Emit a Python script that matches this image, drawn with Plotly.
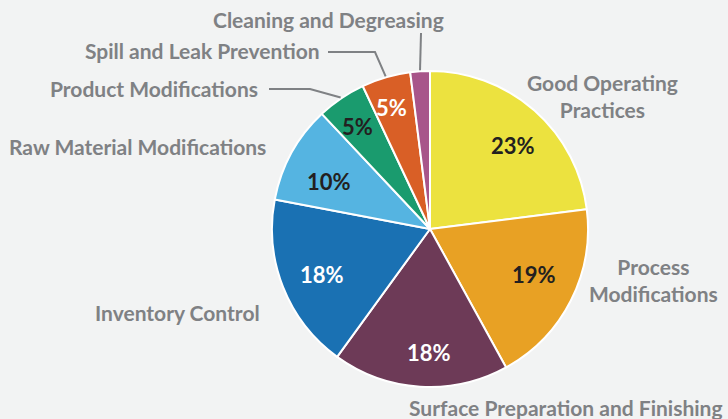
import math
import plotly.graph_objects as go

categories = ["Good Operating Practices", "Process Modifications",
              "Surface Preparation and Finishing", "Inventory Control",
              "Raw Material Modifications", "Product Modifications",
              "Spill and Leak Prevention", "Cleaning and Degreasing"]
values = [23, 19, 18, 18, 10, 5, 5, 2]
pct_labels = ["23%", "19%", "18%", "18%", "10%", "5%", "5%", ""]
colors = ["#ECE23F", "#E8A124", "#6D3A57", "#1A71B3", "#55B4E1",
          "#1A9B6E", "#D95F26", "#A8558A"]
text_colors = ["#231F20", "#231F20", "#FFFFFF", "#FFFFFF", "#231F20",
               "#231F20", "#FFFFFF", "#FFFFFF"]
outer_labels = ["Good Operating<br>Practices", "Process<br>Modifications",
                "Surface Preparation and Finishing", "Inventory Control",
                "Raw Material Modifications", "Product Modifications",
                "Spill and Leak Prevention", "Cleaning and Degreasing"]

W, H = 728, 419
CX, CY, R = 430, 229, 158
FONT = "Lato"
GRAY = "#7F8184"

fig = go.Figure()
fig.add_trace(go.Pie(
    labels=categories, values=values, sort=False, direction="clockwise",
    rotation=0, textinfo="none",
    marker=dict(colors=colors, line=dict(color="white", width=2)),
    domain=dict(x=[(CX - R) / W, (CX + R) / W], y=[1 - (CY + R) / H, 1 - (CY - R) / H]),
    showlegend=False, hoverinfo="label+percent",
))

def px(x, y):
    return x / W, 1 - y / H

# slice mid-angles from the data
total = sum(values)
cum = 0
mids = []
for v in values:
    mids.append((cum + v / 2) / total * 2 * math.pi)
    cum += v

# percentage labels inside slices (radial fraction, angular nudge in degrees)
rad_frac = [0.748, 0.722, 0.78, 0.741, 0.704, 0.794, 0.808, 0.8]
ang_nudge = [3.4, -3.3, -3.2, -1.4, -3.5, -1.2, -1.3, 0]
for i, (t, c) in enumerate(zip(pct_labels, text_colors)):
    if not t:
        continue
    a = mids[i] + math.radians(ang_nudge[i])
    x = CX + rad_frac[i] * R * math.sin(a)
    y = CY - rad_frac[i] * R * math.cos(a)
    xp, yp = px(x, y)
    fig.add_annotation(x=xp, y=yp, xref="paper", yref="paper", text=t,
                       showarrow=False, xanchor="center", yanchor="middle",
                       font=dict(family=FONT, size=22, color=c, weight="bold"))

# outside label positions (pixel centre, anchor)
label_pos = [
    (602, 96, "center"), (653, 280, "center"), (566, 407, "center"),
    (262, 312, "right"), (268, 146, "right"), (260, 88, "right"),
    (322, 51, "right"), (446, 20, "right"),
]
for lab, (x, y, anc) in zip(outer_labels, label_pos):
    xp, yp = px(x, y)
    fig.add_annotation(x=xp, y=yp, xref="paper", yref="paper", text=lab,
                       showarrow=False, xanchor=anc, yanchor="middle",
                       align="center",
                       font=dict(family=FONT, size=21, color=GRAY, weight="bold"))

# leader lines for small slices, starting on the slice edge at mid-angle
elbows = {5: [(269, 89), (310, 89)], 6: [(328, 52), (375, 52)], 7: [(421, 33)]}
for i, pts in elbows.items():
    a = mids[i]
    ex, ey = CX + (R + 1) * math.sin(a), CY - (R + 1) * math.cos(a)
    allp = pts + [(ex, ey)]
    path = "M " + " L ".join(f"{px(x, y)[0]:.5f},{px(x, y)[1]:.5f}" for x, y in allp)
    fig.add_shape(type="path", path=path, xref="paper", yref="paper",
                  line=dict(color=GRAY, width=2))

fig.update_layout(width=W, height=H, margin=dict(l=0, r=0, t=0, b=0),
                  paper_bgcolor="#F2F3F3", plot_bgcolor="#F2F3F3")
fig.write_html("out.html", config={"displayModeBar": False},
               post_script="document.body.style.margin='0';document.body.style.overflow='hidden';")
